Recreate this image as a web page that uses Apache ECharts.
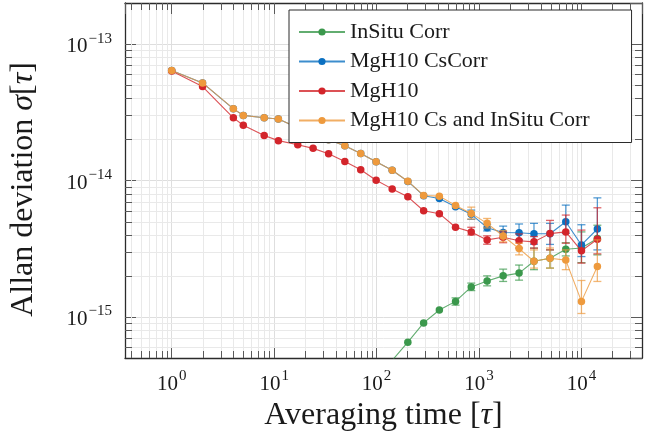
<!DOCTYPE html>
<html>
<head>
<meta charset="utf-8">
<script src="https://cdn.jsdelivr.net/npm/echarts@6/dist/echarts.min.js"></script>
<style>
  html, body { margin: 0; padding: 0; background: #fff; }
  #chart { width: 649px; height: 447px; }
</style>
</head>
<body>
<div id="chart"></div>
<script>
// Averaging times
const tau = [1, 2, 4, 5, 8, 11, 17, 24, 34, 49, 70, 99, 142, 202, 288, 410, 590, 840, 1200, 1720, 2460, 3440, 4930, 7030, 10000, 14300];

// Allan deviation per data set
const inSituCorr = [null, null, null, null, null, null, null, null, null, null, null, null,
  4.8e-16, 6.53e-16, 9.04e-16, 1.125e-15, 1.30e-15, 1.66e-15, 1.835e-15, 2.0e-15, 2.095e-15, 2.56e-15, 2.69e-15, 3.13e-15, 3.2e-15, 3.76e-15];
const mgh10CsCorr = [6.41e-14, 5.19e-14, 3.35e-14, 3.0e-14, 2.88e-14, 2.82e-14, 2.44e-14, 2.20e-14, 1.99e-14, 1.80e-14, 1.58e-14, 1.37e-14, 1.19e-14,
  9.85e-15, 7.74e-15, 7.39e-15, 6.42e-15, 5.65e-15, 4.51e-15, 4.16e-15, 4.14e-15, 4.07e-15, 4.07e-15, 4.99e-15, 3.37e-15, 4.41e-15];
const mgh10 = [6.35e-14, 4.88e-14, 2.88e-14, 2.54e-14, 2.14e-14, 1.96e-14, 1.83e-14, 1.72e-14, 1.57e-14, 1.38e-14, 1.20e-14, 1.005e-14, 8.68e-15,
  7.59e-15, 6.0e-15, 5.71e-15, 4.54e-15, 4.20e-15, 3.67e-15, 3.84e-15, 3.62e-15, 3.55e-15, 4.08e-15, 4.20e-15, 3.05e-15, 3.71e-15];
const mgh10CsInSitu = [6.41e-14, 5.19e-14, 3.36e-14, 3.0e-14, 2.88e-14, 2.82e-14, 2.44e-14, 2.20e-14, 1.99e-14, 1.80e-14, 1.58e-14, 1.37e-14, 1.19e-14,
  9.88e-15, 7.77e-15, 7.68e-15, 6.57e-15, 5.74e-15, 4.85e-15, 3.92e-15, 3.17e-15, 2.56e-15, 2.69e-15, 2.61e-15, 1.30e-15, 2.34e-15];

// Confidence interval bounds (lower / upper), null where no bar is drawn
const N12 = [null, null, null, null, null, null, null, null, null, null, null, null];
const inSituLo = N12.concat([null, null, null, null, 1.22e-15, 1.56e-15, 1.69e-15, 1.82e-15, 1.86e-15, 2.22e-15, 2.28e-15, 2.80e-15, 2.50e-15, 2.85e-15]);
const inSituHi = N12.concat([null, null, null, null, 1.38e-15, 1.77e-15, 2.00e-15, 2.24e-15, 2.40e-15, 3.20e-15, 3.10e-15, 3.50e-15, 4.20e-15, 4.70e-15]);
const csCorrLo = N12.concat([null, null, null, null, null, 5.19e-15, 4.27e-15, 3.75e-15, 3.67e-15, 3.41e-15, 3.40e-15, 4.10e-15, 2.77e-15, 3.10e-15]);
const csCorrHi = N12.concat([null, null, null, null, null, 6.07e-15, 4.77e-15, 4.63e-15, 4.80e-15, 4.85e-15, 4.85e-15, 6.60e-15, 4.74e-15, 7.46e-15]);
const mgh10Lo = N12.concat([null, null, null, null, null, 3.99e-15, 3.41e-15, 3.50e-15, 3.20e-15, 3.19e-15, 3.10e-15, 3.47e-15, 2.48e-15, 2.90e-15]);
const mgh10Hi = N12.concat([null, null, null, null, null, 4.54e-15, 3.93e-15, 4.20e-15, 4.06e-15, 3.88e-15, 5.10e-15, 5.58e-15, 4.33e-15, 6.31e-15]);
const csInSituLo = N12.concat([null, null, null, null, null, 5.22e-15, 4.49e-15, 3.55e-15, 2.85e-15, 2.28e-15, 2.28e-15, 2.22e-15, 1.06e-15, 1.82e-15]);
const csInSituHi = N12.concat([null, null, null, null, null, 6.38e-15, 5.27e-15, 4.30e-15, 3.47e-15, 3.10e-15, 3.20e-15, 3.10e-15, 1.85e-15, 3.67e-15]);

const names = ['InSitu Corr', 'MgH10 CsCorr', 'MgH10', 'MgH10 Cs and InSitu Corr'];
const colors = ['#3b984c', '#0b70c1', '#d3252b', '#ee9a3d'];

const X_MIN = 0.35, X_MAX = 39000;
const Y_MIN = 5e-16, Y_MAX = 2e-13;

const FONT = '"Liberation Serif", "DejaVu Serif", serif';
const GRID_MAJOR = '#dedede';
const GRID_MINOR = '#e9e9e9';
const TICK = '#5a5a5a';
const MAJOR_LEN = 11, MINOR_LEN = 7;

// positions 2..9 within each decade between lo and hi
function minorPositions(lo, hi) {
  const out = [];
  for (let e = Math.floor(Math.log10(lo)); e <= Math.ceil(Math.log10(hi)); e++) {
    for (let k = 2; k <= 9; k++) {
      const v = k * Math.pow(10, e);
      if (v > lo && v < hi) out.push(v);
    }
  }
  return out;
}

function powLabel(v) {
  const e = Math.round(Math.log10(v));
  if (Math.abs(Math.log10(v) - e) > 1e-6) return '';
  return '{b|10}{s|' + (e < 0 ? '\u2212' + (-e) : String(e)) + '}';
}

const labelRich = {
  b: { fontFamily: FONT, fontSize: 21, color: '#1a1a1a', lineHeight: 26, verticalAlign: 'bottom' },
  s: { fontFamily: FONT, fontSize: 15, color: '#1a1a1a', lineHeight: 26, verticalAlign: 'top', padding: [0, 0, 0, 1] }
};

function seriesOf(i, values) {
  return {
    name: names[i],
    type: 'line',
    data: tau.map((t, k) => values[k] == null ? null : [t, values[k]]).filter(d => d),
    symbol: 'circle',
    symbolSize: 7.5,
    clip: true,
    z: 10 + i * 2,
    itemStyle: { color: colors[i] },
    lineStyle: { color: colors[i], width: 1.1, opacity: 0.8 },
    emphasis: { disabled: true },
    animation: false
  };
}

function errorBarsOf(i, lo, hi) {
  return {
    type: 'custom',
    name: names[i] + ' ci',
    z: 11 + i * 2,
    clip: true,
    animation: false,
    encode: { x: 0, y: [1, 2] },
    data: tau.map((t, k) => lo[k] == null ? null : [t, lo[k], hi[k]]).filter(d => d),
    renderItem: function (params, api) {
      const t = api.value(0);
      const pLo = api.coord([t, api.value(1)]);
      const pHi = api.coord([t, api.value(2)]);
      const w = 4;
      const st = { stroke: colors[i], lineWidth: 1.3, opacity: 0.7 };
      return {
        type: 'group',
        children: [
          { type: 'line', shape: { x1: pLo[0], y1: pLo[1], x2: pHi[0], y2: pHi[1] }, style: st },
          { type: 'line', shape: { x1: pHi[0] - w, y1: pHi[1], x2: pHi[0] + w, y2: pHi[1] }, style: st },
          { type: 'line', shape: { x1: pLo[0] - w, y1: pLo[1], x2: pLo[0] + w, y2: pLo[1] }, style: st }
        ]
      };
    }
  };
}

// minor grid lines and minor ticks on all four sides
const xMinorSeries = {
  type: 'custom', z: 1, silent: true, animation: false,
  data: minorPositions(X_MIN, X_MAX).map(v => [v, Y_MIN]),
  renderItem: function (params, api) {
    const v = api.value(0);
    const b = api.coord([v, Y_MIN]), t = api.coord([v, Y_MAX]);
    const x = Math.round(b[0]) + 0.5;
    return {
      type: 'group', children: [
        { type: 'line', shape: { x1: x, y1: t[1], x2: x, y2: b[1] }, style: { stroke: GRID_MINOR, lineWidth: 1 } },
        { type: 'line', shape: { x1: x, y1: b[1], x2: x, y2: b[1] - MINOR_LEN }, style: { stroke: TICK, lineWidth: 1 } },
        { type: 'line', shape: { x1: x, y1: t[1], x2: x, y2: t[1] + MINOR_LEN }, style: { stroke: TICK, lineWidth: 1 } }
      ]
    };
  }
};
const yMinorSeries = {
  type: 'custom', z: 1, silent: true, animation: false,
  data: minorPositions(Y_MIN, Y_MAX).map(v => [X_MIN, v]),
  renderItem: function (params, api) {
    const v = api.value(1);
    const l = api.coord([X_MIN, v]), r = api.coord([X_MAX, v]);
    const y = Math.round(l[1]) + 0.5;
    return {
      type: 'group', children: [
        { type: 'line', shape: { x1: l[0], y1: y, x2: r[0], y2: y }, style: { stroke: GRID_MINOR, lineWidth: 1 } },
        { type: 'line', shape: { x1: l[0], y1: y, x2: l[0] + MINOR_LEN, y2: y }, style: { stroke: TICK, lineWidth: 1 } },
        { type: 'line', shape: { x1: r[0], y1: y, x2: r[0] - MINOR_LEN, y2: y }, style: { stroke: TICK, lineWidth: 1 } }
      ]
    };
  }
};

const axisLineStyle = { color: '#2b2b2b', width: 1.3 };
const majorTick = { show: true, inside: true, length: MAJOR_LEN, lineStyle: { color: TICK, width: 1 } };

const chart = echarts.init(document.getElementById('chart'), null, { renderer: 'canvas' });
chart.setOption({
  animation: false,
  backgroundColor: '#ffffff',
  grid: { left: 124, top: 3, width: 518, height: 355, containLabel: false },
  legend: {
    data: names,
    orient: 'vertical',
    left: 289, top: 10,
    itemWidth: 46, itemHeight: 9, itemGap: 7.5,
    padding: [11, 42, 11, 9],
    backgroundColor: '#ffffff',
    borderColor: '#2b2b2b', borderWidth: 1, borderRadius: 0,
    textStyle: { fontFamily: FONT, fontSize: 22, color: '#1a1a1a' },
    selectedMode: false,
    z: 50
  },
  xAxis: [{
    type: 'log', logBase: 10, min: X_MIN, max: X_MAX, position: 'bottom',
    name: 'Averaging time [{i|τ}]', nameLocation: 'middle', nameGap: 37,
    nameTextStyle: { fontFamily: FONT, fontSize: 32, color: '#1a1a1a',
      rich: { i: { fontFamily: FONT, fontSize: 32, fontStyle: 'italic', color: '#1a1a1a' } } },
    axisLine: { show: true, lineStyle: axisLineStyle },
    axisTick: majorTick,
    splitLine: { show: true, lineStyle: { color: GRID_MAJOR, width: 1 } },
    minorTick: { show: false },
    axisLabel: { formatter: powLabel, rich: labelRich, margin: 11, showMinLabel: false, showMaxLabel: false }
  }, {
    type: 'log', logBase: 10, min: X_MIN, max: X_MAX, position: 'top',
    axisLine: { show: true, lineStyle: axisLineStyle },
    axisTick: majorTick, axisLabel: { show: false }, splitLine: { show: false }
  }],
  yAxis: [{
    type: 'log', logBase: 10, min: Y_MIN, max: Y_MAX, position: 'left',
    name: 'Allan deviation {i|σ}[{i|τ}]', nameLocation: 'middle', nameGap: 85,
    nameTextStyle: { fontFamily: FONT, fontSize: 32, color: '#1a1a1a', padding: [0, 18, 0, 0],
      rich: { i: { fontFamily: FONT, fontSize: 32, fontStyle: 'italic', color: '#1a1a1a' } } },
    axisLine: { show: true, lineStyle: axisLineStyle },
    axisTick: majorTick,
    splitLine: { show: true, lineStyle: { color: GRID_MAJOR, width: 1 } },
    axisLabel: { formatter: powLabel, rich: labelRich, margin: 13, showMinLabel: false, showMaxLabel: false }
  }, {
    type: 'log', logBase: 10, min: Y_MIN, max: Y_MAX, position: 'right',
    axisLine: { show: true, lineStyle: axisLineStyle },
    axisTick: majorTick, axisLabel: { show: false }, splitLine: { show: false }
  }],
  series: [
    xMinorSeries, yMinorSeries,
    seriesOf(0, inSituCorr), errorBarsOf(0, inSituLo, inSituHi),
    seriesOf(1, mgh10CsCorr), errorBarsOf(1, csCorrLo, csCorrHi),
    seriesOf(2, mgh10), errorBarsOf(2, mgh10Lo, mgh10Hi),
    seriesOf(3, mgh10CsInSitu), errorBarsOf(3, csInSituLo, csInSituHi)
  ]
});
</script>
</body>
</html>
